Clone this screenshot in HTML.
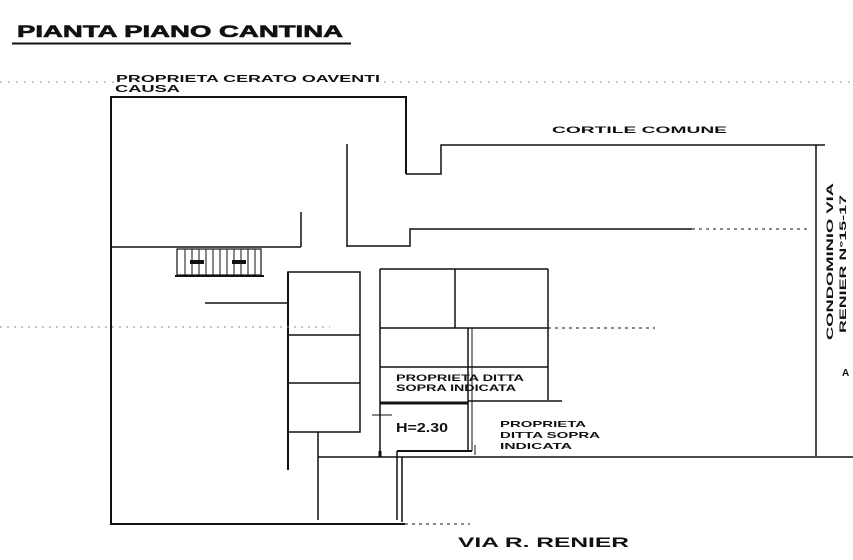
<!DOCTYPE html>
<html><head><meta charset="utf-8"><style>
html,body{margin:0;padding:0;background:#fff;}
svg{display:block;}
text{font-family:"Liberation Sans",sans-serif;font-weight:bold;fill:#111;}
</style></head><body>
<svg width="853" height="560" viewBox="0 0 853 560" xmlns="http://www.w3.org/2000/svg">
<rect width="853" height="560" fill="#fff"/>
<!-- title -->
<text x="17" y="37" font-size="17" textLength="326" lengthAdjust="spacingAndGlyphs" stroke="#111" stroke-width="0.6">PIANTA  PIANO  CANTINA</text>
<line x1="12" y1="43.5" x2="351" y2="43.5" stroke="#111" stroke-width="2"/>
<!-- top dotted line -->
<line x1="0" y1="82" x2="853" y2="82" stroke="#999" stroke-width="1" stroke-dasharray="2 6"/>
<rect x="114" y="72" width="270" height="22" fill="#fff"/>
<text x="116" y="82" font-size="10" textLength="264" lengthAdjust="spacingAndGlyphs">PROPRIETA CERATO OAVENTI</text>
<text x="115" y="92" font-size="10" textLength="65" lengthAdjust="spacingAndGlyphs">CAUSA</text>
<g stroke="#111" fill="none" stroke-width="1.5">
<!-- outer -->
<polyline points="406,174 406,97 111,97 111,524 405,524" stroke-width="2"/>
<line x1="405" y1="524" x2="470" y2="524" stroke-dasharray="3 4" stroke-width="1"/>
<polyline points="406,174 441,174 441,145 825,145"/>
<line x1="816" y1="145" x2="816" y2="456" stroke-width="1.5"/>
<!-- inner -->
<line x1="347" y1="144" x2="347" y2="247"/>
<polyline points="347,246 410,246 410,229 692,229"/>
<line x1="692" y1="229" x2="810" y2="229" stroke-dasharray="3 4" stroke-width="1"/>
<line x1="111" y1="247" x2="301" y2="247"/>
<line x1="301" y1="212" x2="301" y2="247"/>
<!-- stairs -->
<rect x="177" y="249" width="84" height="26" stroke-width="1.2"/>
<line x1="175" y1="276" x2="264" y2="276" stroke-width="2"/>
<!-- left cells -->
<rect x="288" y="272" width="72" height="160"/>
<line x1="288" y1="335" x2="360" y2="335"/>
<line x1="288" y1="383" x2="360" y2="383"/>
<line x1="288" y1="272" x2="288" y2="470" stroke-width="2"/>
<line x1="205" y1="303" x2="288" y2="303"/>
<line x1="0" y1="327" x2="330" y2="327" stroke="#888" stroke-dasharray="2 5" stroke-width="1"/>
<!-- right block -->
<line x1="380" y1="269" x2="548" y2="269"/>
<line x1="380" y1="269" x2="380" y2="451"/>
<line x1="455" y1="269" x2="455" y2="328"/>
<line x1="548" y1="269" x2="548" y2="400"/>
<line x1="380" y1="328" x2="548" y2="328"/>
<line x1="548" y1="328" x2="655" y2="328" stroke-dasharray="3 4" stroke-width="1"/>
<line x1="468" y1="328" x2="468" y2="451"/>
<line x1="472" y1="328" x2="472" y2="451" stroke-width="1"/>
<line x1="380" y1="367" x2="548" y2="367"/>
<line x1="380" y1="403" x2="468" y2="403" stroke-width="3"/>
<line x1="468" y1="401" x2="562" y2="401"/>
<line x1="397" y1="451" x2="472" y2="451" stroke-width="2"/>
<line x1="380" y1="451" x2="380" y2="457" stroke-width="3"/>
<line x1="372" y1="415" x2="392" y2="415" stroke-width="1"/>
<line x1="475" y1="445" x2="475" y2="455" stroke-width="1"/>
<line x1="318" y1="457" x2="853" y2="457"/>
<line x1="318" y1="432" x2="318" y2="520"/>
<line x1="397" y1="451" x2="397" y2="520"/>
<line x1="402" y1="457" x2="402" y2="522"/>
</g>
<g stroke="#111" stroke-width="1">
<line x1="185" y1="249" x2="185" y2="275"/><line x1="192" y1="249" x2="192" y2="275"/><line x1="199" y1="249" x2="199" y2="275"/><line x1="206" y1="249" x2="206" y2="275"/><line x1="213" y1="249" x2="213" y2="275"/><line x1="220" y1="249" x2="220" y2="275"/><line x1="227" y1="249" x2="227" y2="275"/><line x1="234" y1="249" x2="234" y2="275"/><line x1="241" y1="249" x2="241" y2="275"/><line x1="248" y1="249" x2="248" y2="275"/><line x1="255" y1="249" x2="255" y2="275"/>
</g>
<rect x="190" y="260" width="14" height="4" fill="#111"/><rect x="232" y="260" width="14" height="4" fill="#111"/>
<!-- labels -->
<text x="552" y="133" font-size="9" textLength="175" lengthAdjust="spacingAndGlyphs">CORTILE COMUNE</text>
<text x="396" y="381" font-size="9" textLength="128" lengthAdjust="spacingAndGlyphs">PROPRIETA DITTA</text>
<text x="396" y="391" font-size="9" textLength="120" lengthAdjust="spacingAndGlyphs">SOPRA INDICATA</text>
<text x="396" y="432" font-size="13" textLength="52" lengthAdjust="spacingAndGlyphs">H=2.30</text>
<text x="500" y="427" font-size="8.5" textLength="86" lengthAdjust="spacingAndGlyphs">PROPRIETA</text>
<text x="500" y="438" font-size="8.5" textLength="100" lengthAdjust="spacingAndGlyphs">DITTA SOPRA</text>
<text x="500" y="449" font-size="8.5" textLength="72" lengthAdjust="spacingAndGlyphs">INDICATA</text>
<text x="458" y="547" font-size="14" textLength="171" lengthAdjust="spacingAndGlyphs">VIA R. RENIER</text>
<text transform="translate(833,340) rotate(-90)" font-size="9" textLength="157" lengthAdjust="spacingAndGlyphs">CONDOMINIO VIA</text>
<text transform="translate(846,333) rotate(-90)" font-size="9" textLength="138" lengthAdjust="spacingAndGlyphs">RENIER N°15-17</text>
<text x="842" y="376" font-size="10">A</text>
</svg>
</body></html>
